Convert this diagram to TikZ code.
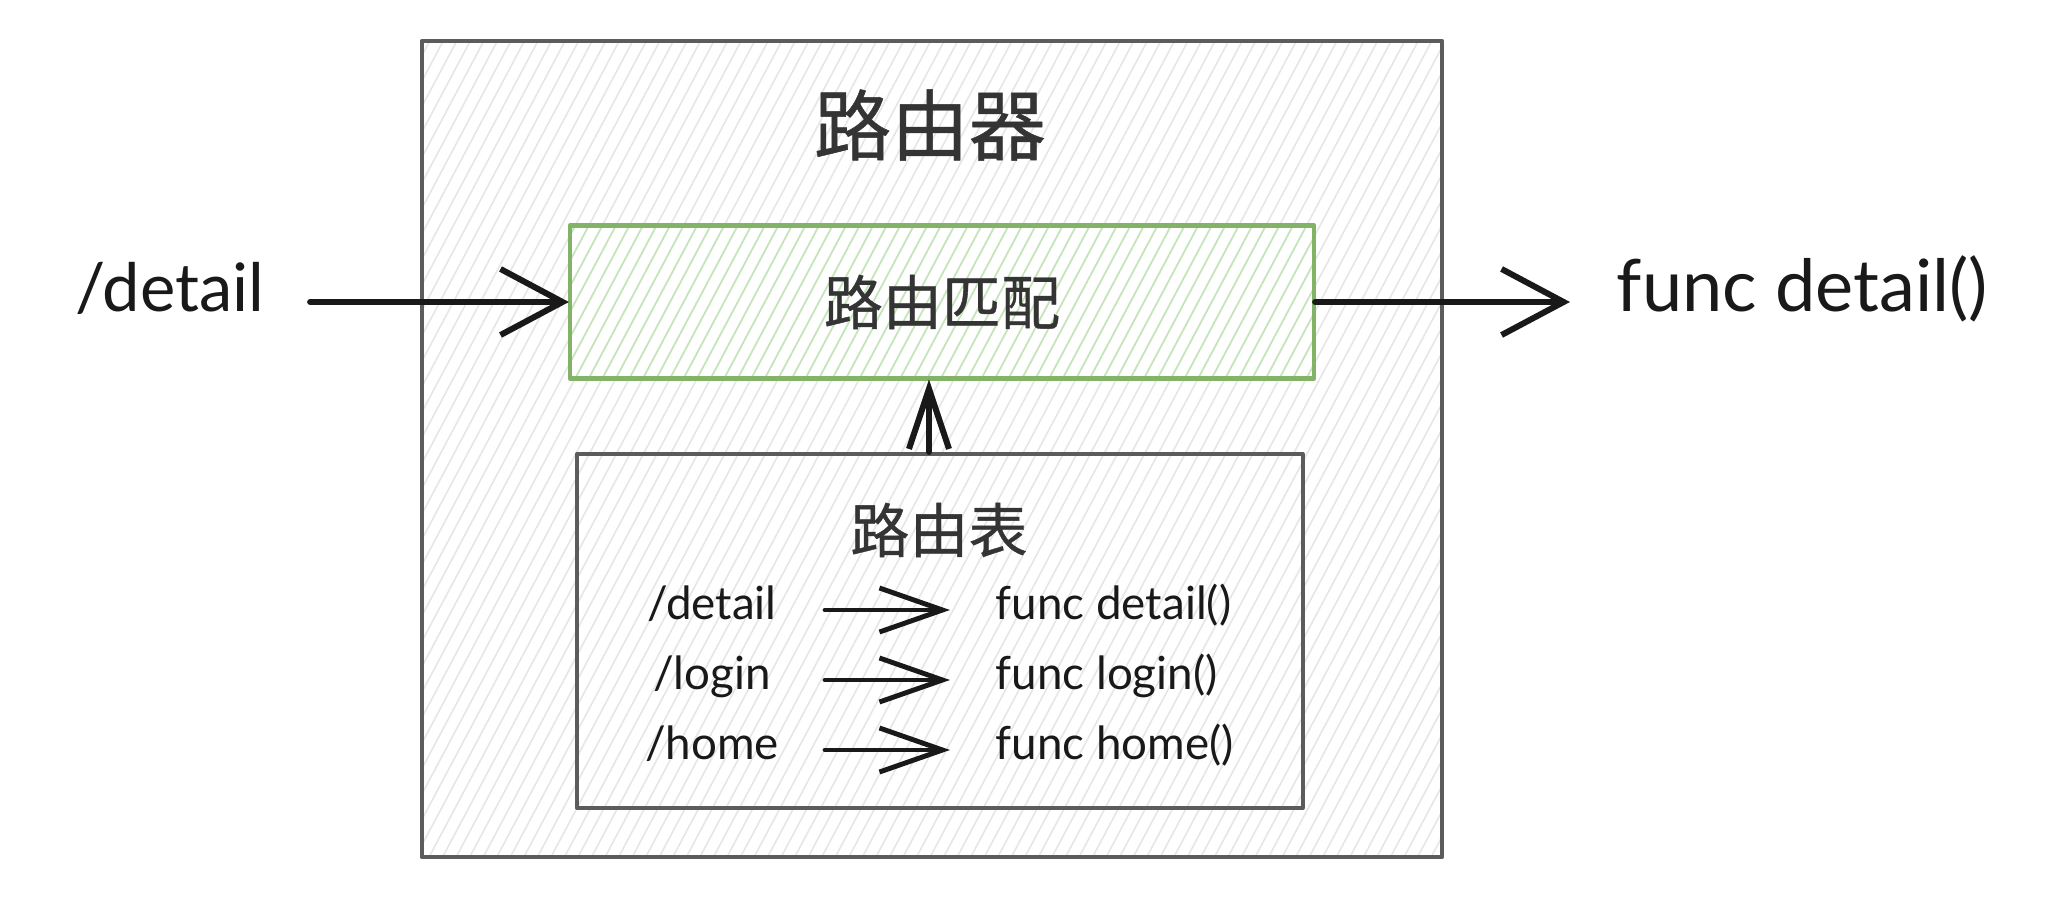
\documentclass[tikz,border=0pt]{standalone}
\usepackage{fontspec}
\setmainfont{Lato}
\newfontfamily\cjk[FakeBold=0.6]{Noto Sans CJK SC}
\usetikzlibrary{arrows.meta,patterns.meta,positioning}
\definecolor{boxgray}{RGB}{92,92,92}
\definecolor{hatchgray}{RGB}{230,230,230}
\definecolor{matchgreen}{RGB}{130,179,102}
\definecolor{hatchgreen}{RGB}{196,228,186}
\definecolor{inkblack}{RGB}{25,25,25}
\definecolor{cjkgray}{RGB}{52,52,52}

\begin{document}
\begin{tikzpicture}[x=0.01cm,y=-0.01cm,line cap=round,line join=round,
	box/.style={draw=boxgray,line width=1.1pt,preaction={fill=white},
		pattern={Lines[angle=62,distance=3.4pt,line width=0.45pt]},pattern color=hatchgray},
	matchbox/.style={draw=matchgreen,line width=1.2pt,preaction={fill=white},
		pattern={Lines[angle=62,distance=3.4pt,line width=0.5pt]},pattern color=hatchgreen},
	cjktext/.style={text=cjkgray,font=\cjk\fontsize{16.8}{20}\selectfont,inner sep=0pt},
	bigtext/.style={text=inkblack,font=\fontsize{19}{22}\selectfont,inner sep=0pt,text height=0.75em,text depth=0.2em},
	rowtext/.style={text=inkblack,font=\fontsize{13}{15}\selectfont,inner sep=0pt,text height=0.75em,text depth=0.2em},
	flow/.style={draw=inkblack,line width=1.7pt,-{Straight Barb[length=0.62cm,width=0.66cm]}},
	rowflow/.style={draw=inkblack,line width=1.4pt,-{Straight Barb[length=0.63cm,width=0.44cm]},shorten <=1.13cm,shorten >=0.45cm}]
	\useasboundingbox (0,0) rectangle (2068,900);
	\fill[white] (0,0) rectangle (2068,900);
	
	\node[box,minimum width=10.2cm,minimum height=8.16cm] (router) at (932,449) {};
	\node[cjktext,font=\cjk\fontsize{22}{26}\selectfont] (title) at (930,125) {路由器};
	
	\node[matchbox,minimum width=7.44cm,minimum height=1.53cm,cjktext] (match) at (942,302) {路由匹配};
	\node[box,minimum width=7.25cm,minimum height=3.54cm] (table) at (940,631) {};
	\node[cjktext] (tabletitle) at (939,530) {路由表};
	
	\node[bigtext] (req) at (170,302) {/detail};
	\node[bigtext,font=\fontsize{20.5}{24}\selectfont,anchor=west] (handler) at (1616,302) {func detail()};
	
	\draw[flow,shorten <=1.4cm] (req.center) -- (req.center -| match.west);
	\draw[flow,shorten >=0.46cm] (match.east) -- (handler.west);
	\draw[draw=inkblack,line width=1.7pt,-{Straight Barb[length=0.6cm,width=0.4cm]}] ([xshift=-0.11cm]table.north) -- ([xshift=-0.11cm]table.north |- match.south);
	
	\foreach \i/\k/\f/\y in {1/detail/detail/610, 2/login/login/680, 3/home/home/750}
	{
		\node[rowtext] (key\i) at (712,\y) {/\k};
		\node[rowtext,anchor=west] (func\i) at (995,\y) {func \f()};
		\draw[rowflow] (key\i.center) -- (func\i.west);
	}
\end{tikzpicture}
\end{document}
